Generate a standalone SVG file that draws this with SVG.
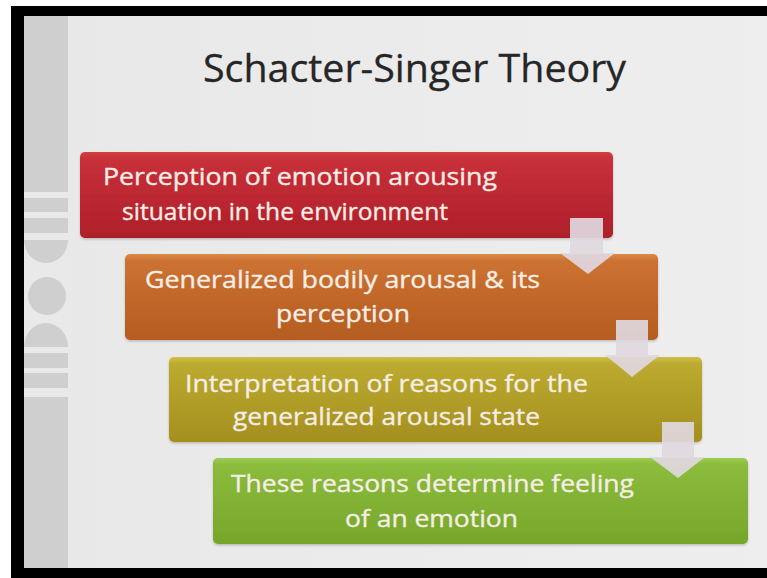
<svg xmlns="http://www.w3.org/2000/svg" width="767" height="578" viewBox="0 0 767 578">
<style>
.t{font-family:"Open Sans","Noto Sans","DejaVu Sans",sans-serif;fill:#f6eee6;stroke:#f6eee6;stroke-width:0.35;font-size:24px}
.title{font-family:"Open Sans","Noto Sans","DejaVu Sans",sans-serif;fill:#262626;stroke:#262626;stroke-width:0.3;font-size:38px}
.strip{fill:#cfcfcf}
.gap{fill:#e9e9e9}
.arrow{fill:#e0d8e0;fill-opacity:0.92}
.box{stroke:none}
</style>
<defs>
<linearGradient id="gRed" x1="0" y1="0" x2="0" y2="1">
<stop offset="0" stop-color="#d2403f"/><stop offset="0.08" stop-color="#c8303a"/><stop offset="1" stop-color="#ae1f29"/>
</linearGradient>
<linearGradient id="gOrange" x1="0" y1="0" x2="0" y2="1">
<stop offset="0" stop-color="#dc8a48"/><stop offset="0.08" stop-color="#cc7232"/><stop offset="1" stop-color="#b45c20"/>
</linearGradient>
<linearGradient id="gOlive" x1="0" y1="0" x2="0" y2="1">
<stop offset="0" stop-color="#cfc048"/><stop offset="0.08" stop-color="#bcaa30"/><stop offset="1" stop-color="#a48f1e"/>
</linearGradient>
<linearGradient id="gGreen" x1="0" y1="0" x2="0" y2="1">
<stop offset="0" stop-color="#9ccc50"/><stop offset="0.08" stop-color="#8cbc3c"/><stop offset="1" stop-color="#76a62a"/>
</linearGradient>
<linearGradient id="gBg" x1="0" y1="0" x2="1" y2="0">
<stop offset="0" stop-color="#e8e8e8"/><stop offset="1" stop-color="#eeeeee"/>
</linearGradient>
<filter id="sh" x="-5%" y="-10%" width="110%" height="130%">
<feDropShadow dx="0" dy="1.5" stdDeviation="1.2" flood-color="#000" flood-opacity="0.2"/>
</filter>
</defs>

<!-- frame -->
<rect x="0" y="0" width="767" height="578" fill="#ffffff"/>
<rect x="11" y="6" width="756" height="572" fill="#000000"/>
<rect x="24" y="16" width="743" height="552" fill="url(#gBg)"/>

<!-- left decorative strip -->
<g id="strip">
<rect class="strip" x="24" y="16" width="44" height="224"/>
<rect class="gap" x="24" y="192" width="44" height="6"/>
<rect class="gap" x="24" y="212" width="44" height="6"/>
<rect class="gap" x="24" y="233" width="44" height="7"/>
<rect class="gap" x="24" y="240" width="44" height="113"/>
<path class="strip" d="M24,240 H68 A22,23 0 0 1 24,240 Z"/>
<circle class="strip" cx="47" cy="296" r="19"/>
<path class="strip" d="M24,347 A22,24 0 0 1 68,347 Z"/>
<rect class="strip" x="24" y="353" width="44" height="215"/>
<rect class="gap" x="24" y="368" width="44" height="5"/>
<rect class="gap" x="24" y="388" width="44" height="9"/>
</g>

<text class="title" x="203" y="82" textLength="423" lengthAdjust="spacingAndGlyphs">Schacter-Singer Theory</text>

<g id="node1">
<rect class="box" x="80" y="152" width="533" height="86" rx="5" fill="url(#gRed)" filter="url(#sh)"/>
<text class="t" x="103" y="185" textLength="394" lengthAdjust="spacingAndGlyphs">Perception of emotion arousing</text>
<text class="t" x="122" y="220" textLength="326" lengthAdjust="spacingAndGlyphs">situation in the environment</text>
</g>

<g id="node2">
<rect class="box" x="125" y="254" width="533" height="86" rx="5" fill="url(#gOrange)" filter="url(#sh)"/>
<text class="t" x="145" y="288" textLength="395" lengthAdjust="spacingAndGlyphs">Generalized bodily arousal &amp; its</text>
<text class="t" x="276" y="322" textLength="134" lengthAdjust="spacingAndGlyphs">perception</text>
</g>

<g id="node3">
<rect class="box" x="169" y="357" width="533" height="85" rx="5" fill="url(#gOlive)" filter="url(#sh)"/>
<text class="t" x="185" y="392" textLength="403" lengthAdjust="spacingAndGlyphs">Interpretation of reasons for the</text>
<text class="t" x="233" y="425" textLength="307" lengthAdjust="spacingAndGlyphs">generalized arousal state</text>
</g>

<g id="node4">
<rect class="box" x="213" y="458" width="535" height="86" rx="5" fill="url(#gGreen)" filter="url(#sh)"/>
<text class="t" x="231" y="492" textLength="403" lengthAdjust="spacingAndGlyphs">These reasons determine feeling</text>
<text class="t" x="345" y="527" textLength="173" lengthAdjust="spacingAndGlyphs">of an emotion</text>
</g>

<g id="connectors">
<polygon class="arrow" points="570,218 603,218 603,253 615,253 588,274 560,253 570,253"/>
<polygon class="arrow" points="616,320 648,320 648,355 660,355 632,377 605,355 616,355"/>
<polygon class="arrow" points="662,422 694,422 694,457 705,457 678,478 650,457 662,457"/>
</g>
</svg>
